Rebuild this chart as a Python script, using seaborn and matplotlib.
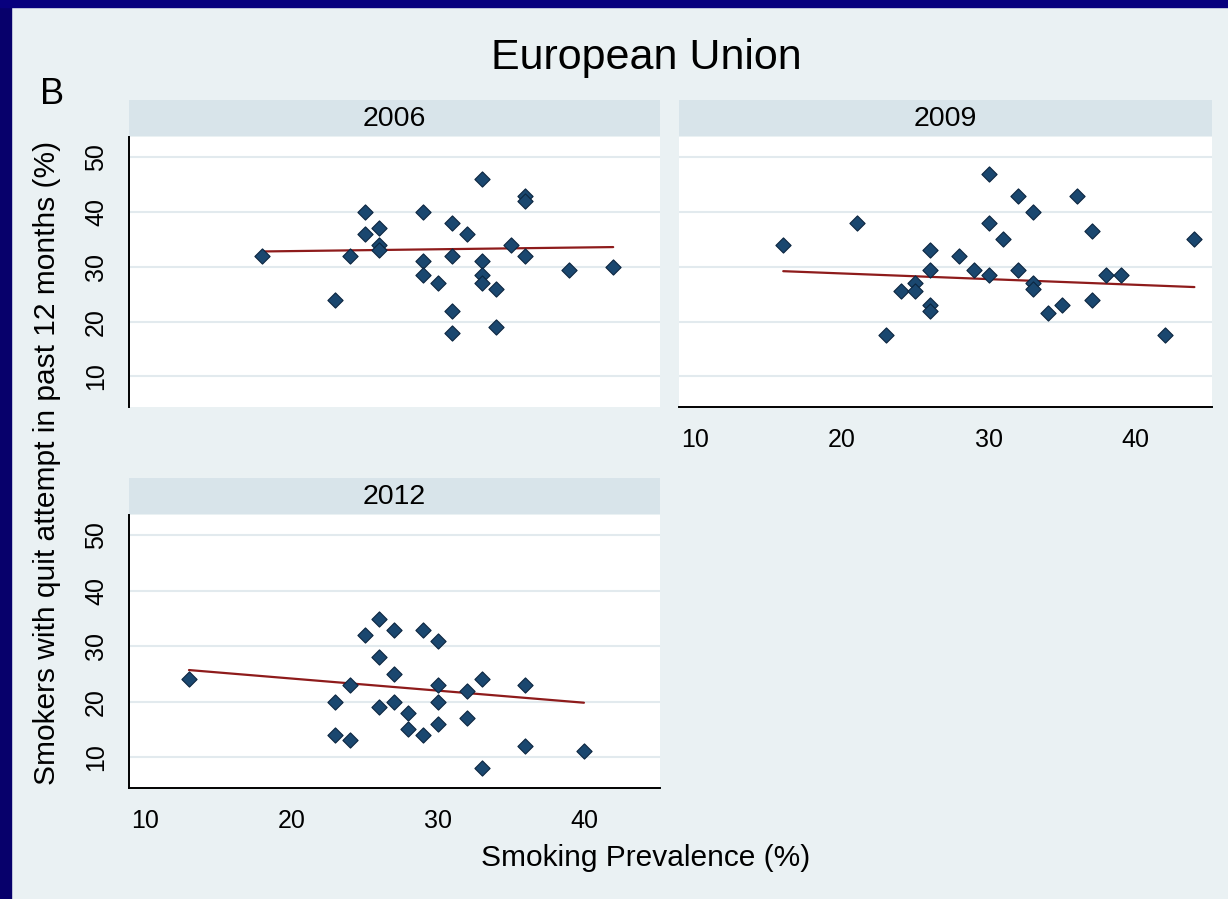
import matplotlib
matplotlib.use("Agg")
import matplotlib.pyplot as plt
from matplotlib.patches import Rectangle
import pandas as pd
import seaborn as sns

# smoking prevalence (%) vs smokers with a quit attempt in past 12 months (%)
prev_2006 = [18, 23, 24, 25, 25, 26, 26, 26, 29, 29, 29, 30, 31, 31, 31, 31, 32,
             33, 33, 33, 33, 34, 34, 35, 36, 36, 36, 39, 42]
quit_2006 = [32, 24, 32, 40, 36, 37, 34, 33, 40, 31, 28.5, 27, 38, 32, 22, 18, 36,
             46, 31, 28.5, 27, 26, 19, 34, 43, 42, 32, 29.5, 30]

prev_2009 = [16, 21, 23, 24, 25, 25, 26, 26, 26, 26, 28, 29, 30, 30, 30, 31, 32,
             32, 33, 33, 33, 34, 35, 36, 37, 37, 38, 39, 42, 44]
quit_2009 = [34, 38, 17.5, 25.5, 27, 25.5, 33, 29.5, 23, 22, 32, 29.5, 47, 38, 28.5,
             35, 43, 29.5, 40, 27, 26, 21.5, 23, 43, 36.5, 24, 28.5, 28.5, 17.5, 35]

prev_2012 = [13, 23, 23, 24, 24, 25, 26, 26, 26, 27, 27, 27, 28, 28, 29, 29, 30,
             30, 30, 30, 32, 32, 33, 33, 36, 36, 40]
quit_2012 = [24, 20, 14, 23, 13, 32, 35, 28, 19, 33, 25, 20, 18, 15, 33, 14, 31,
             23, 20, 16, 22, 17, 24, 8, 23, 12, 11]

# fitted lines, end points
fit_2006_x = [18, 42]
fit_2006_y = [32.8, 33.6]
fit_2009_x = [16, 44]
fit_2009_y = [29.2, 26.3]
fit_2012_x = [13, 40]
fit_2012_y = [25.7, 19.8]

years = ["2006", "2009", "2012"]
x_ticks = [10, 20, 30, 40]
y_ticks = [10, 20, 30, 40, 50]

df = pd.concat([
    pd.DataFrame({"year": "2006", "prevalence": prev_2006, "quit": quit_2006}),
    pd.DataFrame({"year": "2009", "prevalence": prev_2009, "quit": quit_2009}),
    pd.DataFrame({"year": "2012", "prevalence": prev_2012, "quit": quit_2012}),
])
fits = {
    "2006": (fit_2006_x, fit_2006_y),
    "2009": (fit_2009_x, fit_2009_y),
    "2012": (fit_2012_x, fit_2012_y),
}

sns.set_theme(style="white")
plt.rcParams["font.family"] = ["Liberation Sans", "DejaVu Sans"]
plt.rcParams["text.color"] = "black"
plt.rcParams["xtick.labelcolor"] = "black"
plt.rcParams["ytick.labelcolor"] = "black"

W, H = 1228, 899
BG = "#eaf1f3"


def box(x0, y0, x1, y1):
    # pixel box (top-left origin) -> figure fraction rect
    return [x0 / W, 1 - y1 / H, (x1 - x0) / W, (y1 - y0) / H]


fig = plt.figure(figsize=(W / 100, H / 100), dpi=100, facecolor=BG)

# dark blue slide border
fig.add_artist(Rectangle((0, 0), 11 / W, 1, transform=fig.transFigure,
                         color="#07006b", zorder=0))
fig.add_artist(Rectangle((0, 1 - 7 / H), 1, 7 / H, transform=fig.transFigure,
                         color="#08007e", zorder=0))

panels = {
    "2006": (129, 137, 660, 407),
    "2009": (679, 137, 1212, 407),
    "2012": (129, 515, 660, 788),
}

for year in years:
    x0, y0, x1, y1 = panels[year]
    ax = fig.add_axes(box(x0, y0, x1, y1))
    ax.set_facecolor("white")
    sub = df[df["year"] == year]

    sns.lineplot(x=fits[year][0], y=fits[year][1], color="#8e1b1b",
                 linewidth=1.6, ax=ax, zorder=2)
    sns.scatterplot(data=sub, x="prevalence", y="quit", marker="D", s=60,
                    color="#1a476f", edgecolor="#0c2640", linewidth=0.8,
                    ax=ax, zorder=3)

    ax.set_xlim(8.9, 45.2)
    ax.set_ylim(4.4, 53.7)
    ax.set_xticks(x_ticks)
    ax.set_yticks(y_ticks)
    ax.set_xlabel("")
    ax.set_ylabel("")
    ax.grid(axis="y", color="#e2eaee", linewidth=1.5)
    ax.grid(axis="x", visible=False)
    ax.set_axisbelow(True)

    for side in ["top", "right"]:
        ax.spines[side].set_visible(False)
    for side in ["left", "bottom"]:
        ax.spines[side].set_color("black")
        ax.spines[side].set_linewidth(1.4)

    ax.tick_params(axis="both", direction="out", length=8, width=1.4,
                   color="black", labelcolor="black", labelsize=18, pad=7)
    ax.tick_params(axis="y", labelrotation=90)
    for lab in ax.get_yticklabels():
        lab.set_va("center")

    if year == "2006":
        ax.spines["bottom"].set_visible(False)
        ax.tick_params(axis="x", bottom=False, labelbottom=False)
    if year == "2009":
        ax.spines["left"].set_visible(False)
        ax.tick_params(axis="y", left=False, labelleft=False)

    # facet strip
    sax = fig.add_axes(box(x0, y0 - 37, x1, y0 - 1))
    sax.set_facecolor("#d8e4ea")
    sax.set_xticks([])
    sax.set_yticks([])
    for sp in sax.spines.values():
        sp.set_visible(False)
    sax.text(0.5, 0.47, year, ha="center", va="center", fontsize=20.5,
             color="black", transform=sax.transAxes)

fig.text(646 / W, 1 - 58 / H, "European Union", ha="center", va="center",
         fontsize=31, color="black")
fig.text(52 / W, 1 - 95 / H, "B", ha="center", va="center", fontsize=26,
         color="black")
fig.text(47 / W, 1 - 463 / H, "Smokers with quit attempt in past 12 months (%)",
         rotation=90, ha="center", va="center", fontsize=21.5, color="black")
fig.text(646 / W, 1 - 858 / H, "Smoking Prevalence (%)", ha="center",
         va="center", fontsize=21.5, color="black")

fig.savefig("out.png", dpi=100, facecolor=fig.get_facecolor())
